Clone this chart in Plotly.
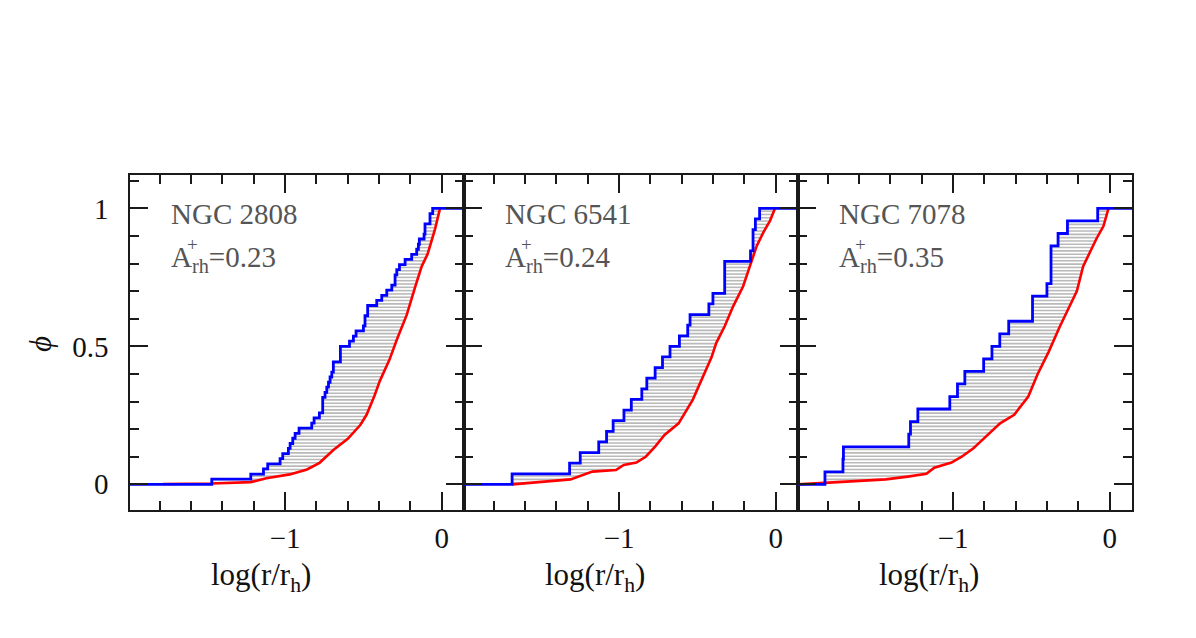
import numpy as np
import plotly.graph_objects as go

# ---------------- data ----------------
clusters = ["NGC 2808", "NGC 6541", "NGC 7078"]
a_rh_values = ["0.23", "0.24", "0.35"]

x_ticks_major = [-1, 0]
y_ticks_major = [0, 0.5, 1]

# NGC 2808
blue_x_2808 = [-1.468, -1.219, -1.138, -1.111, -1.032, -1.015, -0.979, -0.968, -0.951, -0.936,
               -0.911, -0.830, -0.815, -0.781, -0.760, -0.745, -0.734, -0.723, -0.713, -0.702,
               -0.692, -0.647, -0.589, -0.564, -0.547, -0.500, -0.490, -0.473, -0.415, -0.383,
               -0.351, -0.319, -0.298, -0.287, -0.270, -0.234, -0.192, -0.160, -0.149, -0.143,
               -0.113, -0.107, -0.075, -0.058]
blue_phi_2808 = [0.019, 0.037, 0.056, 0.074, 0.093, 0.111, 0.130, 0.148, 0.167, 0.185,
                 0.204, 0.222, 0.241, 0.259, 0.315, 0.333, 0.352, 0.370, 0.389, 0.407,
                 0.444, 0.500, 0.519, 0.537, 0.556, 0.574, 0.611, 0.648, 0.667, 0.685,
                 0.704, 0.722, 0.759, 0.778, 0.796, 0.815, 0.833, 0.852, 0.870, 0.889,
                 0.907, 0.944, 0.981, 1.000]
red_x_2808 = [-1.78, -1.47, -1.22, -1.12, -0.97, -0.86, -0.78, -0.69, -0.60, -0.52, -0.48,
              -0.43, -0.395, -0.35, -0.334, -0.287, -0.223, -0.17, -0.128, -0.09, -0.064,
              -0.043, -0.011]
red_phi_2808 = [0.001, 0.003, 0.008, 0.022, 0.036, 0.054, 0.078, 0.125, 0.165, 0.215, 0.252,
                0.320, 0.375, 0.430, 0.451, 0.524, 0.615, 0.715, 0.790, 0.835, 0.887,
                0.925, 1.000]

# NGC 6541
blue_x_6541 = [-1.683, -1.316, -1.248, -1.130, -1.080, -1.038, -0.969, -0.922, -0.855, -0.823,
               -0.770, -0.723, -0.675, -0.615, -0.562, -0.547, -0.427, -0.401, -0.326, -0.161,
               -0.145, -0.130, -0.103]
blue_phi_6541 = [0.038, 0.077, 0.115, 0.154, 0.192, 0.231, 0.269, 0.308, 0.346, 0.385,
                 0.423, 0.462, 0.500, 0.538, 0.577, 0.615, 0.654, 0.692, 0.808, 0.846,
                 0.923, 0.962, 1.000]
red_x_6541 = [-1.68, -1.45, -1.31, -1.17, -1.02, -0.97, -0.89, -0.83, -0.77, -0.71, -0.62,
              -0.53, -0.465, -0.41, -0.38, -0.326, -0.272, -0.208, -0.165, -0.122, -0.08,
              -0.037, -0.005]
red_phi_6541 = [0.0, 0.010, 0.018, 0.046, 0.052, 0.070, 0.079, 0.100, 0.137, 0.179, 0.221,
                0.306, 0.391, 0.460, 0.512, 0.573, 0.645, 0.718, 0.791, 0.863, 0.912,
                0.955, 1.000]

# NGC 7078
blue_x_7078 = [-1.818, -1.703, -1.700, -1.283, -1.272, -1.225, -1.021, -0.972, -0.925, -0.805,
               -0.752, -0.702, -0.645, -0.493, -0.401, -0.375, -0.330, -0.270, -0.077]
blue_phi_7078 = [0.045, 0.091, 0.136, 0.182, 0.227, 0.273, 0.318, 0.364, 0.409, 0.455,
                 0.500, 0.545, 0.591, 0.682, 0.727, 0.864, 0.909, 0.955, 1.000]
red_x_7078 = [-1.99, -1.82, -1.60, -1.43, -1.29, -1.17, -1.12, -1.01, -0.945, -0.87, -0.83,
              -0.70, -0.61, -0.52, -0.46, -0.39, -0.32, -0.255, -0.21, -0.17, -0.13, -0.085,
              -0.04, -0.02, -0.008]
red_phi_7078 = [0.0, 0.005, 0.014, 0.018, 0.028, 0.038, 0.060, 0.079, 0.100, 0.131, 0.152,
                0.221, 0.252, 0.318, 0.400, 0.480, 0.570, 0.645, 0.700, 0.790, 0.840, 0.890,
                0.936, 0.980, 1.000]

blue_x = [blue_x_2808, blue_x_6541, blue_x_7078]
blue_phi = [blue_phi_2808, blue_phi_6541, blue_phi_7078]
red_x = [red_x_2808, red_x_6541, red_x_7078]
red_phi = [red_phi_2808, red_phi_6541, red_phi_7078]

# ---------------- layout constants ----------------
W, H = 1196, 638
X_RANGE = [-1.99, 0.142]
Y_RANGE = [-0.093, 1.121]
panel_left_px = [130, 464, 798]
panel_w_px = 334
plot_top_px, plot_bot_px = 175, 510
FONT = "Liberation Serif"
HATCH_STEP = 0.012

fig = go.Figure()

px_per_x = panel_w_px / (X_RANGE[1] - X_RANGE[0])

for i in range(3):
    xa = "x" if i == 0 else f"x{i+1}"
    ya = "y" if i == 0 else f"y{i+1}"
    bx = np.array(blue_x[i]); by = np.array(blue_phi[i])
    rx = np.array(red_x[i]); ry = np.array(red_phi[i])

    # hatch between the two cumulative curves
    hx, hy = [], []
    for lev in np.arange(HATCH_STEP / 2, 1.0, HATCH_STEP):
        idx = np.searchsorted(by, lev - 1e-9)
        if idx >= len(bx):
            continue
        xb = bx[idx]
        xr = float(np.interp(lev, ry, rx))
        if xr > xb + 1e-4:
            hx += [xb, xr, None]
            hy += [lev, lev, None]
    fig.add_trace(go.Scatter(x=hx, y=hy, mode="lines", xaxis=xa, yaxis=ya,
                             line=dict(color="#b9b9b9", width=1.6), hoverinfo="skip",
                             showlegend=False))
    # red curve
    fig.add_trace(go.Scatter(x=list(rx), y=list(ry), mode="lines", xaxis=xa, yaxis=ya,
                             line=dict(color="#ff0000", width=2.6), showlegend=False))
    # blue step curve
    fig.add_trace(go.Scatter(x=[X_RANGE[0]] + list(bx) + [X_RANGE[1]],
                             y=[0] + list(by) + [1], mode="lines", xaxis=xa, yaxis=ya,
                             line=dict(color="#0000ff", width=2.8, shape="hv"),
                             showlegend=False))

tick_common = dict(showline=True, linecolor="#1a1a1a", linewidth=1.6, mirror="allticks",
                   ticks="inside", ticklen=18, tickwidth=1.6, tickcolor="#1a1a1a",
                   showgrid=False, zeroline=False,
                   tickfont=dict(family=FONT, size=29, color="#111"))

ydom = [1 - plot_bot_px / H, 1 - plot_top_px / H]
layout_axes = {}
for i in range(3):
    xname = "xaxis" if i == 0 else f"xaxis{i+1}"
    yname = "yaxis" if i == 0 else f"yaxis{i+1}"
    xa = "x" if i == 0 else f"x{i+1}"
    ya = "y" if i == 0 else f"y{i+1}"
    l = panel_left_px[i] / W
    r = (panel_left_px[i] + panel_w_px) / W
    layout_axes[xname] = dict(domain=[l, r], range=X_RANGE, anchor=ya,
                              tickvals=x_ticks_major, ticklabelstandoff=1,
                              minor=dict(ticks="inside", ticklen=9, dtick=0.2, tick0=0,
                                         tickwidth=1.6, tickcolor="#1a1a1a"),
                              **tick_common)
    layout_axes[yname] = dict(domain=ydom, range=Y_RANGE, anchor=xa,
                              tickvals=y_ticks_major, showticklabels=(i == 0),
                              ticklabelstandoff=14,
                              minor=dict(ticks="inside", ticklen=9, dtick=0.1, tick0=0,
                                         tickwidth=1.6, tickcolor="#1a1a1a"),
                              **tick_common)

annotations = []
for i in range(3):
    xa = "x" if i == 0 else f"x{i+1}"
    ya = "y" if i == 0 else f"y{i+1}"
    x_txt = X_RANGE[0] + 39 / px_per_x
    annotations.append(dict(x=x_txt, y=0.979, xref=xa, yref=ya, xanchor="left",
                            yanchor="middle", showarrow=False, text=clusters[i],
                            font=dict(family=FONT, size=29, color="#555")))
    annotations.append(dict(x=x_txt, y=0.815, xref=xa, yref=ya, xanchor="left",
                            yanchor="middle", showarrow=False,
                            text=f"A<sub>rh</sub>=" + a_rh_values[i],
                            font=dict(family=FONT, size=29, color="#555")))
    annotations.append(dict(x=X_RANGE[0] + 62 / px_per_x, y=0.868, xref=xa, yref=ya,
                            xanchor="center", yanchor="middle", showarrow=False,
                            text="+", font=dict(family=FONT, size=19, color="#555")))
    annotations.append(dict(x=(panel_left_px[i] + 131) / W, y=1 - 577 / H,
                            xref="paper", yref="paper", xanchor="center",
                            yanchor="middle", showarrow=False,
                            text="log(r/r<sub>h</sub>)",
                            font=dict(family=FONT, size=31, color="#111")))

annotations.append(dict(x=40 / W, y=1 - 344 / H, xref="paper", yref="paper",
                        xanchor="center", yanchor="middle", showarrow=False,
                        text="<i>ϕ</i>", textangle=-90,
                        font=dict(family=FONT, size=31, color="#111")))

fig.update_layout(width=W, height=H, autosize=False,
                  margin=dict(l=0, r=0, t=0, b=0),
                  paper_bgcolor="white", plot_bgcolor="white",
                  annotations=annotations, **layout_axes)

fig.write_html("out.html")
